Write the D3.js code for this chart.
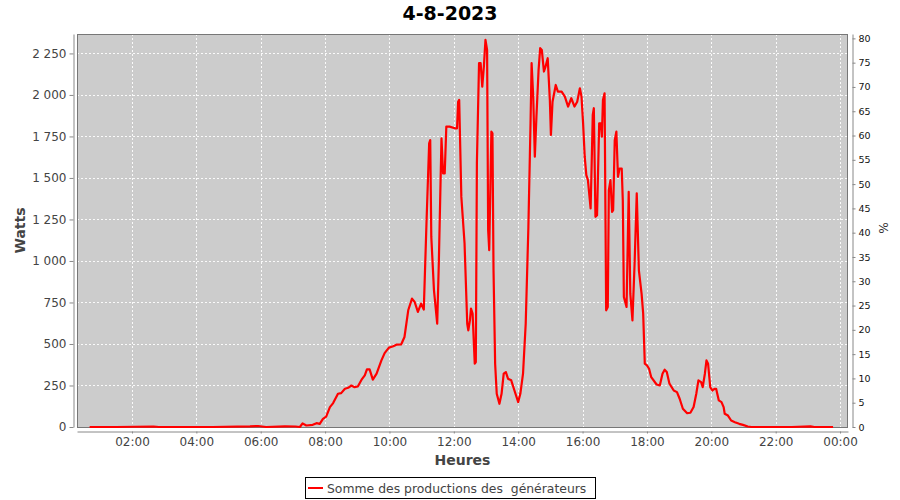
<!DOCTYPE html>
<html><head><meta charset="utf-8">
<script src="https://cdn.jsdelivr.net/npm/d3@7"></script>
<style>body{margin:0;background:#fff} text{font-family:"DejaVu Sans",sans-serif}</style>
</head><body><svg id="c" width="900" height="500"></svg>
<script>
const chartTitle = "4-8-2023";
const seriesName = "Somme des productions des  générateurs";
const times = ["00:41","01:30","02:40","02:50","04:30","05:40","05:55","06:10","06:45","07:05","07:13","07:18","07:25","07:37","07:44","07:50","07:56","08:02","08:09","08:15","08:24","08:30","08:37","08:43","08:49","08:55","09:01","09:08","09:14","09:18","09:23","09:29","09:36","09:45","09:51","09:59","10:07","10:13","10:22","10:28","10:35","10:42","10:47","10:53","10:59","11:04","11:09","11:14","11:16","11:18","11:23","11:29","11:32","11:37","11:40","11:43","11:46","11:52","12:02","12:06","12:08","12:10","12:14","12:20","12:25","12:27","12:30","12:32","12:35","12:39","12:41","12:43","12:47","12:50","12:53","12:56","12:59","13:02","13:04","13:06","13:10","13:12","13:14","13:17","13:20","13:25","13:29","13:33","13:37","13:41","13:47","13:53","14:00","14:04","14:09","14:14","14:19","14:23","14:25","14:28","14:31","14:34","14:38","14:41","14:44","14:48","14:51","14:55","14:59","15:01","15:04","15:10","15:14","15:21","15:27","15:33","15:39","15:45","15:50","15:55","15:58","16:01","16:04","16:07","16:10","16:15","16:17","16:19","16:21","16:24","16:27","16:31","16:34","16:36","16:38","16:41","16:44","16:47","16:49","16:52","16:55","16:57","17:00","17:03","17:06","17:09","17:13","17:15","17:17","17:22","17:26","17:29","17:33","17:37","17:41","17:45","17:50","17:53","17:56","18:00","18:04","18:08","18:18","18:24","18:29","18:33","18:37","18:42","18:50","18:56","19:01","19:07","19:15","19:21","19:27","19:32","19:36","19:41","19:44","19:48","19:51","19:54","19:58","20:02","20:06","20:09","20:14","20:19","20:23","20:25","20:31","20:37","20:44","20:52","20:59","21:08","21:15","22:30","23:05","23:12","23:47"];
const watts = [0,0,3,0,0,4,6,0,4,3,0,22,9,13,23,19,49,63,120,144,200,204,230,236,250,240,244,285,311,347,347,285,321,401,445,478,486,496,498,542,703,773,753,693,743,707,1226,1708,1728,1145,823,622,985,1738,1527,1527,1809,1809,1799,1799,1959,1970,1386,1105,622,582,642,713,683,381,391,1588,2191,2191,2050,2171,2332,2271,1186,1065,1779,1769,944,381,200,140,200,321,331,291,281,220,150,200,321,622,1205,1829,2191,1990,1628,1869,2151,2282,2271,2141,2171,2221,1970,1759,1959,2060,2020,2020,1990,1930,1980,1930,1959,2040,1990,1829,1628,1517,1487,1316,1588,1879,1920,1266,1276,1829,1829,1749,1970,2010,703,723,1427,1487,1296,1306,1728,1779,1507,1557,1557,1366,783,723,1417,803,642,985,1407,944,803,683,381,371,351,300,256,250,321,345,331,261,220,210,170,110,83,86,120,200,281,270,240,321,401,381,240,220,230,230,160,150,120,80,69,39,29,19,13,3,0,0,4,0,0];
const yTicks = [0,250,500,750,1000,1250,1500,1750,2000,2250];
const pctTicks = [0,5,10,15,20,25,30,35,40,45,50,55,60,65,70,75,80];
const xTickHours = [2,4,6,8,10,12,14,16,18,20,22,24];

const svg = d3.select("#c");
const L = 77, R = 848, T = 34, B = 427;
const day = (h, m) => new Date(2023, 7, 4, h, m);
const parse = s => { const [h, m] = s.split(":").map(Number); return day(h, m); };
const data = times.map((t, i) => ({ t: parse(t), w: watts[i] }));

const x = d3.scaleTime().domain([new Date(2023,7,4,0,17,30), new Date(2023,7,5,0,14,50)]).range([L, R]);
const y = d3.scaleLinear().domain([0, 2367]).range([B, T]);
const yP = d3.scaleLinear().domain([0, 80.9]).range([B, T]);
const xTicks = xTickHours.map(h => day(h, 0));

const loc = d3.formatLocale({decimal: ",", thousands: "\u00a0", grouping: [3], currency: ["", "€"]});
const fmtW = loc.format(",d");

svg.append("rect").attr("x", L).attr("y", T).attr("width", R - L).attr("height", B - T).attr("fill", "#cccccc");

const grid = svg.append("g").attr("stroke", "#ffffff").attr("stroke-width", 1).attr("stroke-dasharray", "2,2").attr("opacity", 0.9);
grid.selectAll(".h").data(yTicks.filter(v => v > 0)).join("line")
  .attr("x1", L).attr("x2", R).attr("y1", d => Math.round(y(d)) + 0.5).attr("y2", d => Math.round(y(d)) + 0.5);
grid.selectAll(".v").data(xTicks).join("line")
  .attr("y1", T).attr("y2", B).attr("x1", d => Math.round(x(d)) + 0.5).attr("x2", d => Math.round(x(d)) + 0.5);

svg.append("rect").attr("x", L + 0.5).attr("y", T + 0.5).attr("width", R - L - 1).attr("height", B - T).attr("fill", "none").attr("stroke", "#777");

const line = d3.line().x(d => x(d.t)).y(d => y(d.w));
svg.append("path").datum(data).attr("d", line).attr("fill", "none").attr("stroke", "#ff0000").attr("stroke-width", 2.2).attr("stroke-linejoin", "round");

function styleAxis(g, col) {
  g.select(".domain").attr("stroke", "#888");
  g.selectAll(".tick line").attr("stroke", "#888");
  g.selectAll("text").attr("fill", col).attr("font-family", "DejaVu Sans");
}
svg.append("g").attr("transform", "translate(73.5,0)")
  .call(d3.axisLeft(y).tickValues(yTicks).tickFormat(fmtW).tickSize(4).tickSizeOuter(0).tickPadding(3))
  .attr("font-size", 12).call(g => styleAxis(g, "#444"));
svg.append("g").attr("transform", "translate(0,431.5)")
  .call(d3.axisBottom(x).tickValues(xTicks).tickFormat(d3.timeFormat("%H:%M")).tickSize(2).tickSizeOuter(0).tickPadding(4))
  .attr("font-size", 12).call(g => styleAxis(g, "#444"));
svg.append("g").attr("transform", "translate(852.5,0)")
  .call(d3.axisRight(yP).tickValues(pctTicks).tickSize(3).tickSizeOuter(0).tickPadding(3))
  .attr("font-size", 9.5).call(g => styleAxis(g, "#111"));

svg.append("text").attr("x", 450).attr("y", 20).attr("text-anchor", "middle").attr("font-size", 19).attr("font-weight", "bold").attr("fill", "#000").text(chartTitle);
svg.append("text").attr("transform", "translate(25,230.5) rotate(-90)").attr("text-anchor", "middle").attr("font-size", 14).attr("font-weight", "bold").attr("fill", "#444").text("Watts");
svg.append("text").attr("x", (L + R) / 2).attr("y", 465).attr("text-anchor", "middle").attr("font-size", 14).attr("font-weight", "bold").attr("fill", "#444").text("Heures");
svg.append("text").attr("transform", "translate(879,228) rotate(90)").attr("text-anchor", "middle").attr("font-size", 12).attr("fill", "#333").text("%");

const lg = svg.append("g");
lg.append("rect").attr("x", 305.5).attr("y", 477.5).attr("width", 290).attr("height", 21).attr("fill", "#fff").attr("stroke", "#000");
lg.append("line").attr("x1", 308).attr("x2", 323).attr("y1", 488).attr("y2", 488).attr("stroke", "#ff0000").attr("stroke-width", 2);
lg.append("text").attr("x", 327).attr("y", 492.5).attr("font-size", 12.4).attr("fill", "#444").style("white-space", "pre").text(seriesName);
</script></body></html>
